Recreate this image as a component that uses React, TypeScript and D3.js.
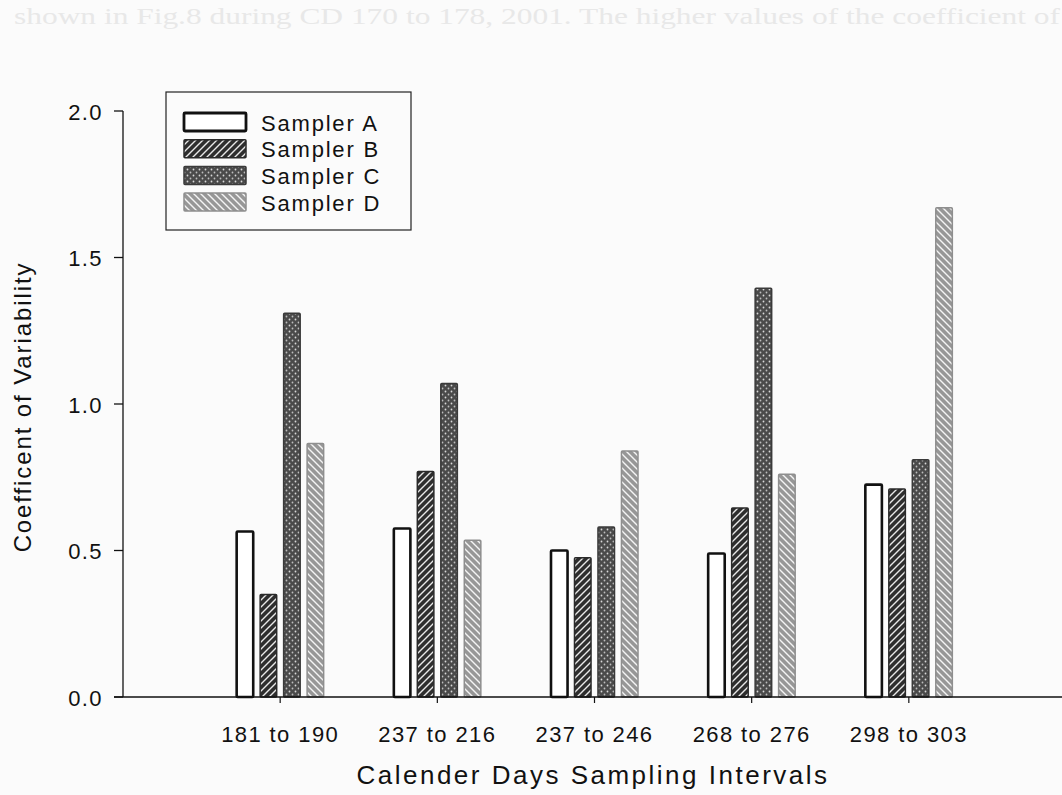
import * as d3 from 'd3';

const CATEGORIES = ['181 to 190', '237 to 216', '237 to 246', '268 to 276', '298 to 303'];
const SAMPLERS = ['Sampler A', 'Sampler B', 'Sampler C', 'Sampler D'];
const SAMPLER_A = [0.565, 0.575, 0.5, 0.49, 0.725];
const SAMPLER_B = [0.35, 0.77, 0.475, 0.645, 0.71];
const SAMPLER_C = [1.31, 1.07, 0.58, 1.395, 0.81];
const SAMPLER_D = [0.865, 0.535, 0.84, 0.76, 1.67];
const Y_TICKS = [0, 0.5, 1.0, 1.5, 2.0];

const SERIES = [SAMPLER_A, SAMPLER_B, SAMPLER_C, SAMPLER_D];

const WIDTH = 1062;
const HEIGHT = 795;
const AXIS_X = 123;
const AXIS_BOTTOM = 697;
const AXIS_TOP = 111;
const FONT = 'Liberation Sans, Arial, sans-serif';

// fill + stroke for each sampler (A plain, B / hatch, C dots, D \ hatch)
const FILLS = ['#ffffff', 'url(#hatchB)', 'url(#dotsC)', 'url(#hatchD)'];
const STROKES = ['#111', '#2a2a2a', '#3a3a3a', '#8e8e8e'];

export default function App() {
  const x = d3.scalePoint<string>().domain(CATEGORIES).range([AXIS_X, 1066]).padding(1);
  const inner = d3.scaleBand<string>().domain(SAMPLERS).range([-44.5, 44.5]).paddingInner(0.21);
  const y = d3.scaleLinear().domain([0, 2]).range([AXIS_BOTTOM, AXIS_TOP]);

  const bars = CATEGORIES.map((cat, ci) => (
    <g key={cat}>
      {SAMPLERS.map((s, si) => {
        const v = SERIES[si][ci];
        const bx = (x(cat) ?? 0) + (inner(s) ?? 0);
        return (
          <rect
            key={s}
            x={bx + 1}
            y={y(v)}
            width={inner.bandwidth() - 2}
            height={AXIS_BOTTOM - y(v)}
            fill={FILLS[si]}
            stroke={STROKES[si]}
            strokeWidth={si === 0 ? 2.6 : 1.5}
            rx={1}
          />
        );
      })}
    </g>
  ));

  return (
    <svg
      width={WIDTH}
      height={HEIGHT}
      style={{ position: 'absolute', left: 0, top: 0, background: '#fbfbfb' }}
    >
      <defs>
        <pattern id="hatchB" width={7} height={7} patternUnits="userSpaceOnUse">
          <rect width={7} height={7} fill="#2e2e2e" />
          <path d="M-2,2 l4,-4 M0,7 l7,-7 M5,9 l4,-4" stroke="#e8e8e8" strokeWidth={1.4} />
        </pattern>
        <pattern id="dotsC" width={6} height={6} patternUnits="userSpaceOnUse">
          <rect width={6} height={6} fill="#4a4a4a" />
          <circle cx={1.5} cy={1.5} r={0.9} fill="#d8d8d8" />
          <circle cx={4.5} cy={4.5} r={0.9} fill="#bdbdbd" />
        </pattern>
        <pattern id="hatchD" width={7} height={7} patternUnits="userSpaceOnUse">
          <rect width={7} height={7} fill="#979797" />
          <path d="M-2,5 l4,4 M0,0 l7,7 M5,-2 l4,4" stroke="#f4f4f4" strokeWidth={1.4} />
        </pattern>
      </defs>

      {/* faint bleed-through from the other side of the page */}
      <text
        x={14}
        y={24}
        fontFamily="Liberation Serif, serif"
        fontSize={24}
        fill="#e8e8e8"
        textLength={1046}
        lengthAdjust="spacingAndGlyphs"
      >
        shown in Fig.8 during CD 170 to 178, 2001. The higher values of the coefficient of
      </text>

      {bars}

      {/* y axis */}
      <line x1={AXIS_X} x2={AXIS_X} y1={AXIS_TOP} y2={AXIS_BOTTOM} stroke="#111" strokeWidth={1.3} />
      {Y_TICKS.map((t) => (
        <g key={t}>
          <line x1={AXIS_X - 9} x2={AXIS_X} y1={y(t)} y2={y(t)} stroke="#111" strokeWidth={1.3} />
          <text
            x={AXIS_X - 20}
            y={y(t) + 1}
            textAnchor="end"
            dominantBaseline="central"
            fontFamily={FONT}
            fontSize={22}
            letterSpacing={1.4}
            fill="#111"
          >
            {t.toFixed(1)}
          </text>
        </g>
      ))}

      {/* x axis */}
      <line x1={AXIS_X - 9} x2={WIDTH} y1={AXIS_BOTTOM} y2={AXIS_BOTTOM} stroke="#111" strokeWidth={1.6} />
      {CATEGORIES.map((c) => (
        <g key={c}>
          <line x1={x(c)} x2={x(c)} y1={AXIS_BOTTOM} y2={AXIS_BOTTOM + 6} stroke="#111" strokeWidth={1.2} />
          <text
            x={x(c)}
            y={AXIS_BOTTOM + 37}
            textAnchor="middle"
            dominantBaseline="central"
            fontFamily={FONT}
            fontSize={22}
            letterSpacing={1.4}
            fill="#111"
          >
            {c}
          </text>
        </g>
      ))}

      {/* axis titles */}
      <text
        x={593}
        y={775}
        textAnchor="middle"
        dominantBaseline="central"
        fontFamily={FONT}
        fontSize={26}
        letterSpacing={2.5}
        fill="#111"
      >
        Calender Days Sampling Intervals
      </text>
      <text
        transform={`translate(22,${(AXIS_TOP + AXIS_BOTTOM) / 2 + 3}) rotate(-90)`}
        textAnchor="middle"
        dominantBaseline="central"
        fontFamily={FONT}
        fontSize={24}
        letterSpacing={1.9}
        fill="#111"
      >
        Coefficent of Variability
      </text>

      {/* legend */}
      <rect x={166} y={92} width={245} height={138} fill="#fbfbfb" stroke="#222" strokeWidth={1.2} />
      {SAMPLERS.map((s, i) => {
        const cy = 122 + i * 26.7;
        return (
          <g key={s}>
            <rect
              x={184}
              y={cy - 9}
              width={62}
              height={18}
              fill={FILLS[i]}
              stroke={STROKES[i]}
              strokeWidth={i === 0 ? 2.8 : 1.5}
              rx={1}
            />
            <text
              x={261}
              y={cy + 1}
              dominantBaseline="central"
              fontFamily={FONT}
              fontSize={22}
              letterSpacing={1.8}
              fill="#111"
            >
              {s}
            </text>
          </g>
        );
      })}
    </svg>
  );
}
